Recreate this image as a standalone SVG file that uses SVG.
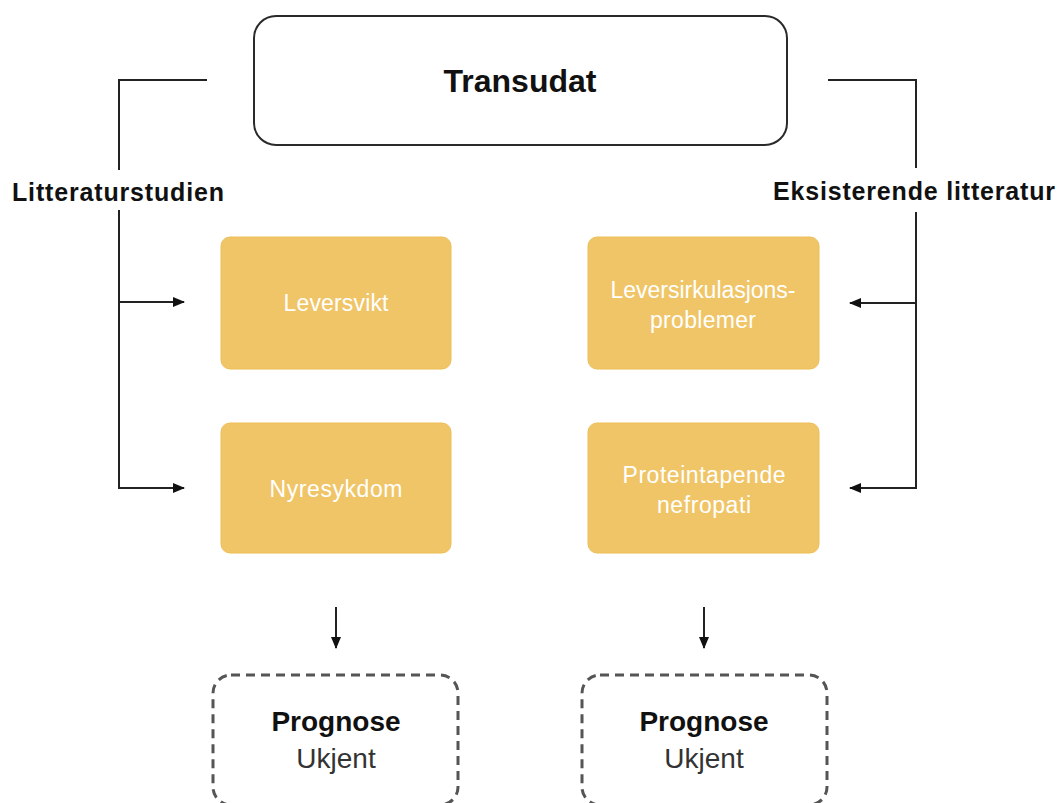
<svg xmlns="http://www.w3.org/2000/svg" width="1061" height="803" viewBox="0 0 1061 803">
  <defs>
    <marker id="arrow" viewBox="0 0 12 10" refX="11" refY="5" markerWidth="12" markerHeight="10" markerUnits="userSpaceOnUse" orient="auto">
      <path d="M0,0 L12,5 L0,10 z" fill="#111"/>
    </marker>
    <style>
      .line { fill: none; stroke: #222; stroke-width: 2; }
      .cat { fill: #F0C567; stroke: #EDBE58; stroke-width: 1; }
      .cat-text { font-family: "Liberation Sans", Arial, sans-serif; font-size: 23px; fill: #ffffff; text-anchor: middle; }
      .side-label { font-family: "Liberation Sans", Arial, sans-serif; font-size: 25px; font-weight: bold; fill: #111; }
      .progbox { fill: none; stroke: #555; stroke-width: 3; stroke-dasharray: 9 6; }
      .prog-title { font-family: "Liberation Sans", Arial, sans-serif; font-size: 28px; font-weight: bold; fill: #111; text-anchor: middle; }
      .prog-value { font-family: "Liberation Sans", Arial, sans-serif; font-size: 28px; fill: #333; text-anchor: middle; }
    </style>
  </defs>
  <rect width="1061" height="803" fill="#ffffff"/>

  <g id="transudat">
    <rect x="254" y="16" width="533" height="129" rx="22" fill="#ffffff" stroke="#2a2a2a" stroke-width="2"/>
    <text x="520" y="92" font-family="Liberation Sans, Arial, sans-serif" font-size="32" font-weight="bold" fill="#111" text-anchor="middle">Transudat</text>
  </g>

  <g id="label-left">
    <text class="side-label" x="12" y="201" textLength="212">Litteraturstudien</text>
  </g>
  <g id="label-right">
    <text class="side-label" x="773" y="200" textLength="282">Eksisterende litteratur</text>
  </g>

  <g id="leversvikt">
    <rect class="cat" x="221" y="237" width="230" height="132" rx="9"/>
    <text class="cat-text" x="336" y="311" textLength="105">Leversvikt</text>
  </g>
  <g id="leversirkulasjon">
    <rect class="cat" x="588" y="237" width="231" height="132" rx="9"/>
    <text class="cat-text" x="703" y="298" textLength="185">Leversirkulasjons-</text>
    <text class="cat-text" x="703" y="328" textLength="106">problemer</text>
  </g>
  <g id="nyresykdom">
    <rect class="cat" x="221" y="423" width="230" height="130" rx="9"/>
    <text class="cat-text" x="336" y="497" textLength="133">Nyresykdom</text>
  </g>
  <g id="proteintapende">
    <rect class="cat" x="588" y="423" width="231" height="130" rx="9"/>
    <text class="cat-text" x="704" y="483" textLength="163">Proteintapende</text>
    <text class="cat-text" x="704" y="513" textLength="94">nefropati</text>
  </g>

  <g id="prognose-left">
    <rect class="progbox" x="213" y="675" width="245" height="130" rx="18"/>
    <text class="prog-title" x="336" y="731">Prognose</text>
    <text class="prog-value" x="336" y="768">Ukjent</text>
  </g>
  <g id="prognose-right">
    <rect class="progbox" x="582" y="675" width="245" height="130" rx="18"/>
    <text class="prog-title" x="704" y="731">Prognose</text>
    <text class="prog-value" x="704" y="768">Ukjent</text>
  </g>

  <g id="connectors">
    <!-- left bracket -->
    <polyline class="line" points="207,80 119,80 119,170"/>
    <polyline class="line" points="119,210 119,488 184,488" marker-end="url(#arrow)"/>
    <line class="line" x1="119" y1="302" x2="184" y2="302" marker-end="url(#arrow)"/>
    <!-- right bracket -->
    <polyline class="line" points="828,80 916,80 916,168"/>
    <polyline class="line" points="916,212 916,488 850,488" marker-end="url(#arrow)"/>
    <line class="line" x1="916" y1="303" x2="850" y2="303" marker-end="url(#arrow)"/>
    <!-- down arrows -->
    <line class="line" x1="336" y1="607" x2="336" y2="648" marker-end="url(#arrow)"/>
    <line class="line" x1="704" y1="607" x2="704" y2="648" marker-end="url(#arrow)"/>
  </g>
</svg>
